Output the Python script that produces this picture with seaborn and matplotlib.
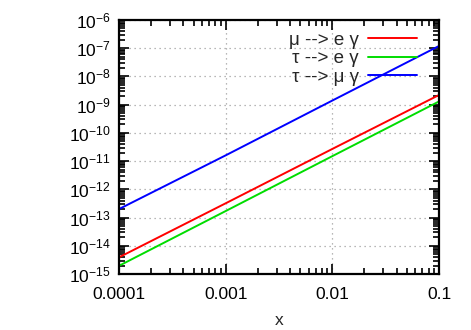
import numpy as np
import pandas as pd
import seaborn as sns
import matplotlib.pyplot as plt
from matplotlib.ticker import LogLocator, NullFormatter

# values (log-log, roughly x^2)
x_vals = [1e-4, 1e-3, 1e-2, 1e-1]
mu_e = [3.9e-15, 3.2e-13, 2.7e-11, 2.2e-9]
tau_e = [1.95e-15, 1.7e-13, 1.5e-11, 1.3e-9]
tau_mu = [2.0e-13, 1.6e-11, 1.4e-9, 1.2e-7]
labels = ["\u03bc --> e \u03b3", "\u03c4 --> e \u03b3", "\u03c4 --> \u03bc \u03b3"]
colors = ["#ff0000", "#00dd00", "#0000ff"]
x_ticks = [1e-4, 1e-3, 1e-2, 1e-1]
x_ticklabels = ["0.0001", "0.001", "0.01", "0.1"]
y_exponents = list(range(-15, -5))

sns.set_style("ticks")
plt.rcParams["font.family"] = ["Liberation Sans", "DejaVu Sans"]
plt.rcParams["mathtext.fontset"] = "custom"
plt.rcParams["mathtext.rm"] = "Liberation Sans"
plt.rcParams["mathtext.it"] = "Liberation Sans:italic"
plt.rcParams["mathtext.bf"] = "Liberation Sans:bold"

df = pd.DataFrame({
    "x": x_vals * 3,
    "y": mu_e + tau_e + tau_mu,
    "process": [labels[0]] * 4 + [labels[1]] * 4 + [labels[2]] * 4,
})

fig = plt.figure(figsize=(4.71, 3.30), dpi=100)
ax = fig.add_axes([119 / 471, 1 - 274 / 330, 320 / 471, 254 / 330])

sns.lineplot(data=df, x="x", y="y", hue="process", palette=colors,
             linewidth=1.4, ax=ax)

ax.set_xscale("log")
ax.set_yscale("log")
ax.set_xlim(1e-4, 1e-1)
ax.set_ylim(1e-15, 1e-6)

# fixed major ticks only inside the view (no hidden labels outside)
ax.set_xticks(x_ticks)
ax.set_xticklabels(x_ticklabels)
ax.set_yticks([10.0 ** e for e in y_exponents])
ax.set_yticklabels([f"$10^{{{e}}}$" for e in y_exponents])
ax.xaxis.set_minor_locator(LogLocator(base=10, subs=np.arange(2, 10), numticks=20))
ax.yaxis.set_minor_locator(LogLocator(base=10, subs=np.arange(2, 10), numticks=20))
ax.xaxis.set_minor_formatter(NullFormatter())
ax.yaxis.set_minor_formatter(NullFormatter())

ax.tick_params(which="both", direction="in", top=True, right=True,
               labelsize=12.5, width=1.2, colors="black")
ax.tick_params(which="major", length=7)
ax.tick_params(which="minor", length=4)
ax.tick_params(axis="x", which="major", pad=9.5)
ax.tick_params(axis="y", which="major", pad=6)
for s in ax.spines.values():
    s.set_linewidth(1.6)
    s.set_color("black")

ax.grid(which="major", linestyle=(0, (1, 3)), color="#a0a0a0", linewidth=0.9)

ax.set_xlabel("x", fontsize=12.5, labelpad=8)
ax.set_ylabel("")

ax.legend(loc="upper right", bbox_to_anchor=(0.931, 0.955), frameon=False,
          markerfirst=False, fontsize=13.5, handlelength=2.6,
          handletextpad=0.5, labelspacing=0.08, borderpad=0,
          borderaxespad=0)

fig.savefig("out.png", dpi=100)
